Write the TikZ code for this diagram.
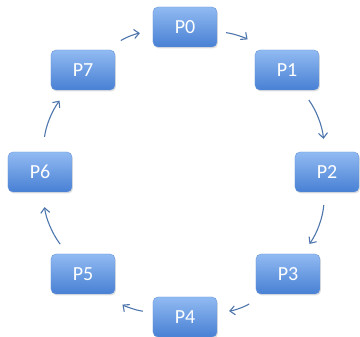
\documentclass[tikz,border=0pt]{standalone}
\usepackage{fontspec}
\setmainfont{Carlito}
\usetikzlibrary{arrows.meta,shadows}
\definecolor{boxtop}{RGB}{145,186,242}
\definecolor{boxbot}{RGB}{72,128,212}
\definecolor{boxline}{RGB}{105,150,218}
\definecolor{ringblue}{RGB}{78,118,172}
\begin{document}
\begin{tikzpicture}[x=1pt,y=1pt,
  proc/.style={rectangle,rounded corners=5pt,minimum width=64pt,minimum height=40pt,
    top color=boxtop,bottom color=boxbot,draw=boxline,line width=0.4pt,text=white,
    font=\fontsize{20}{22}\selectfont,
    drop shadow={opacity=0.25,shadow xshift=1pt,shadow yshift=-1.5pt}},
  ring/.style={ringblue,line width=1.1pt,-{Straight Barb[length=5pt,width=9pt]},bend left=15}]
\useasboundingbox (0,0) rectangle (360,-337);
\node [proc] (p0) at (185,-27) {P0};
\node [proc] (p1) at (287,-70) {P1};
\node [proc] (p2) at (327,-172) {P2};
\node [proc] (p3) at (288,-274) {P3};
\node [proc] (p4) at (185,-317) {P4};
\node [proc] (p5) at (83,-274) {P5};
\node [proc] (p6) at (40,-172) {P6};
\node [proc] (p7) at (83,-70) {P7};
\draw [ring,shorten <=9pt,shorten >=17pt] (p0) to (p1);
\draw [ring,shorten <=12pt,shorten >=13pt] (p1) to (p2);
\draw [ring,shorten <=13pt,shorten >=12pt] (p2) to (p3);
\draw [ring,shorten <=16pt,shorten >=12pt] (p3) to (p4);
\draw [ring,shorten <=10pt,shorten >=17pt] (p4) to (p5);
\draw [ring,shorten <=12pt,shorten >=15pt] (p5) to (p6);
\draw [ring,shorten <=15pt,shorten >=13pt] (p6) to (p7);
\draw [ring,shorten <=15pt,shorten >=13pt] (p7) to (p0);
\end{tikzpicture}
\end{document}
